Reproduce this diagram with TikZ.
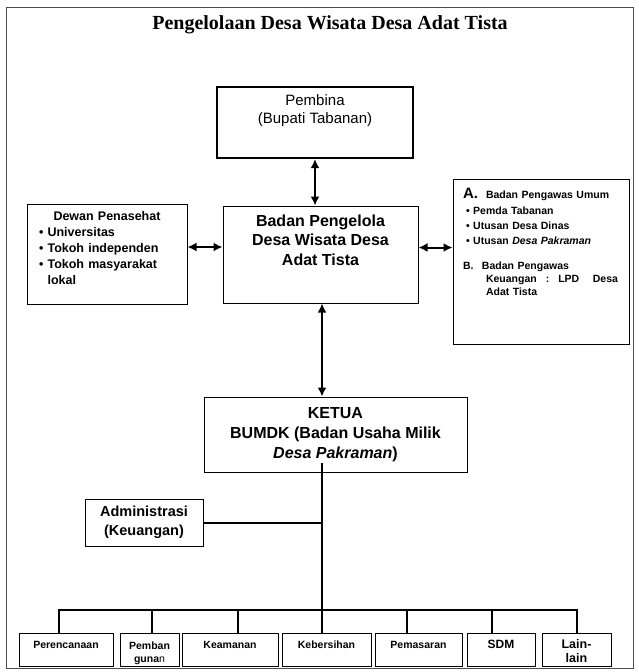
\documentclass[tikz,border=0pt]{standalone}
\usepackage{fontspec}
\setmainfont{Liberation Serif}
\setsansfont{Liberation Sans}
\usetikzlibrary{shapes,arrows.meta}
\tikzstyle{block} = [rectangle, draw, line width=1pt, inner sep=0pt,
    font=\sffamily\bfseries]
\tikzstyle{unit} = [block, minimum height=33pt, text height=15.5pt, text depth=17.5pt,
    font=\sffamily\bfseries\fontsize{10.5}{13}\selectfont]
\tikzstyle{unittwo} = [block, minimum height=33pt]
\tikzstyle{line} = [draw, line width=2pt]
\tikzstyle{link} = [draw, line width=2pt, {Latex[length=9pt,width=9pt]}-{Latex[length=9pt,width=9pt]}]

\begin{document}
\begin{tikzpicture}[x=1pt, y=1pt]
		\useasboundingbox (0,0) rectangle (638,-672);
		\draw [black!70, line width=0.8pt] (6,-7) rectangle (633,-668);
		\node [font=\rmfamily\bfseries\fontsize{20}{24}\selectfont] (title) at (330,-25) {Pengelolaan Desa Wisata Desa Adat Tista};
		
		\node [block, line width=2.2pt, minimum width=196pt, minimum height=71pt,
			label={[anchor=north, yshift=-9pt, inner sep=0pt, align=center, font=\sffamily\fontsize{15}{18}\selectfont]north:{Pembina\\(Bupati Tabanan)}}] (pembina) at (315,-122.5) {};
		\node [block, minimum width=195pt, minimum height=97pt,
			label={[anchor=north, yshift=-9pt, inner sep=0pt, align=center, font=\sffamily\bfseries\fontsize{16}{19.5}\selectfont]north:{Badan Pengelola\\Desa Wisata Desa\\Adat Tista}}] (badan) at (320.5,-254.5) {};
		\node [block, minimum width=160pt, minimum height=100pt,
			label={[anchor=north, yshift=-8.2pt, inner sep=0pt, text width=136pt, align=left, font=\sffamily\bfseries\fontsize{12.5}{16}\selectfont]north:{{\centering Dewan Penasehat\endgraf}\textbullet\ Universitas\\\textbullet\ Tokoh independen\\\textbullet\ Tokoh masyarakat\\\phantom{\textbullet\ }lokal}}] (dewan) at (107,-254) {};
		\node [block, minimum width=176pt, minimum height=165pt,
			label={[anchor=north, yshift=-9.6pt, inner sep=0pt, text width=156pt, align=left, font=\sffamily\bfseries\fontsize{10.5}{13}\selectfont]north:{\makebox[23pt][l]{\fontsize{15}{15}\selectfont A.}Badan Pengawas Umum\\[2.5pt]%
				\hspace*{3pt}\textbullet\ Pemda Tabanan\\[2pt]%
				\hspace*{3pt}\textbullet\ Utusan Desa Dinas\\[2pt]%
				\hspace*{3pt}\textbullet\ Utusan \textit{Desa Pakraman}\\[12pt]%
				\makebox[19pt][l]{B.}Badan Pengawas\\[0pt]%
				\hspace*{23pt}\makebox[132pt][l]{Keuangan\hspace{9pt}:\hspace{9pt}LPD\hfill Desa}\\[0pt]%
				\hspace*{23pt}Adat Tista}}] (pengawas) at (541,-261.5) {};
		
		\node [block, minimum width=263pt, minimum height=75pt, align=center,
			font=\sffamily\bfseries\fontsize{16}{20}\selectfont] (ketua) at (335.5,-434.5) {KETUA\\BUMDK (Badan Usaha Milik\\\textit{Desa Pakraman})};
		\node [block, minimum width=118pt, minimum height=47pt, align=center,
			font=\sffamily\bfseries\fontsize{14.5}{19}\selectfont] (admin) at (144,-522.5) {Administrasi\\(Keuangan)};
		
		\node [unit, minimum width=94pt] (perencanaan) at (66,-649.5) {Perencanaan};
		\node [unittwo, minimum width=59pt,
			label={[anchor=north, yshift=-9pt, inner sep=0pt, align=center, font=\sffamily\bfseries\fontsize{10.5}{13}\selectfont]north:{Pemban\\guna{\mdseries n}}}] (pembangunan) at (149.5,-649.5) {};
		\node [unit, minimum width=96pt] (keamanan) at (230,-649.5) {Keamanan};
		\node [unit, minimum width=89pt] (kebersihan) at (326.5,-649.5) {Kebersihan};
		\node [unit, minimum width=87pt] (pemasaran) at (418.5,-649.5) {Pemasaran};
		\node [unit, minimum width=68pt, font=\sffamily\bfseries\fontsize{12}{13}\selectfont] (sdm) at (501,-649.5) {SDM};
		\node [unittwo, minimum width=69pt,
			label={[anchor=north, yshift=-7pt, inner sep=0pt, align=center, font=\sffamily\bfseries\fontsize{12.5}{14}\selectfont]north:{Lain-\\lain}}] (lain) at (576.5,-649.5) {};
		
		\coordinate (stem) at (322,-463);
		\coordinate (bus) at (322,-610);
		
		\path [link] (pembina.south) -- (pembina.south |- badan.north);
		\path [link] ([yshift=7pt]dewan.east) -- ([yshift=7pt]dewan.east -| badan.west);
		\path [link] ([yshift=7pt]badan.east) -- ([yshift=7pt]badan.east -| pengawas.west);
		\path [link] (badan.south -| stem) -- (ketua.north -| stem);
		
		\path [line] (stem) -- (bus);
		\path [line] (admin.east) -- (admin.east -| stem);
		\path [line] ([xshift=-7pt]perencanaan.north) |- (bus) -| (lain.north);
		\foreach \unit/\dx in {pembangunan/2.5, keamanan/8, kebersihan/-4.5, pemasaran/-11.5, sdm/-9}
			\path [line] ([xshift=\dx pt]\unit.north) -- ([xshift=\dx pt]\unit.north |- bus);
	\end{tikzpicture}
\end{document}
